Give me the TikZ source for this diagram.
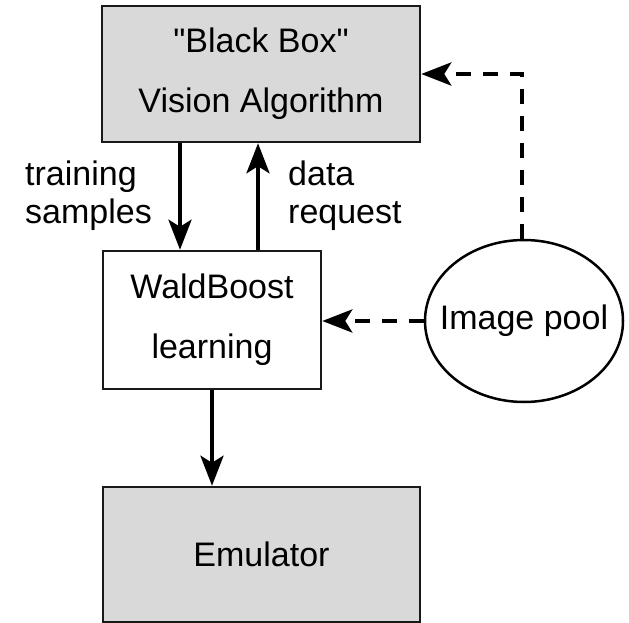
\documentclass[tikz,border=0pt]{standalone}
\usepackage{fontspec}
\setmainfont{Liberation Sans}[Ligatures=TeXOff]
\usetikzlibrary{arrows.meta,shapes.geometric}
\definecolor{boxgray}{HTML}{D9D9D9}
\begin{document}
\begin{tikzpicture}[x=1pt,y=-1pt,
  every node/.style={font=\fontsize{34}{60}\selectfont},
  graybox/.style={draw=black!90, line width=2.5pt, fill=boxgray, inner sep=0pt, align=center},
  whitebox/.style={draw=black!90, line width=2.5pt, fill=white, inner sep=0pt, align=center},
  pool/.style={ellipse, draw=black, line width=2.5pt, inner sep=0pt, minimum width=198pt, minimum height=162pt},
  lbl/.style={inner sep=0pt, align=left, font=\fontsize{34}{38}\selectfont},
  arr/.style={line width=4pt, -{Stealth[length=30pt,width=23pt,inset=7pt]}},
  dasharr/.style={line width=4.5pt, dash pattern=on 15pt off 12pt, -{Stealth[length=30pt,width=23pt,inset=7pt]}}
]
\useasboundingbox (0,0) rectangle (629,623);
\node[graybox, minimum width=318pt, minimum height=136pt] (bb) at (261,74) {"Black Box"\\Vision Algorithm};
\node[whitebox, minimum width=218pt, minimum height=138pt] (wb) at (212,320) {WaldBoost\\learning};
\node[graybox, minimum width=317pt, minimum height=135pt] (em) at (261.5,554.5) {Emulator};
\node[pool] (ip) at (524,321) {\makebox[0pt][c]{Image pool}};
\node[lbl, anchor=west] (tl) at (25,196) {training\\samples};
\node[lbl, anchor=west] (dl) at (288,196) {data\\request};
\draw[arr] ([xshift=-81pt]bb.south) -- ([xshift=-32pt]wb.north);
\draw[arr] ([xshift=46pt]wb.north) -- ([xshift=-3pt]bb.south);
\draw[arr] (wb.south) -- (wb.south |- em.north);
\draw[dasharr] (ip.west) -- (ip.west -| wb.east);
\draw[dasharr] ([xshift=-2pt]ip.north) |- (bb.east);
\end{tikzpicture}
\end{document}
